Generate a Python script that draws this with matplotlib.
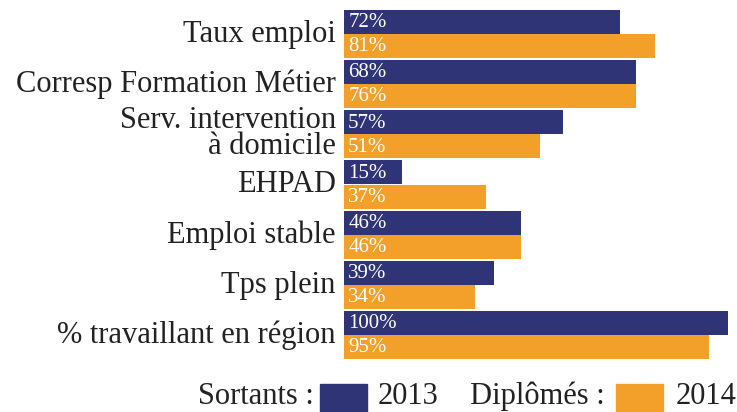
import matplotlib.pyplot as plt
from matplotlib.patches import Rectangle
from matplotlib.transforms import ScaledTranslation
import numpy as np

# Data
categories = ["Taux emploi", "Corresp Formation Métier",
              "Serv. intervention\nà domicile", "EHPAD", "Emploi stable",
              "Tps plein", "% travaillant en région"]
# bar lengths as drawn (the 2013 "Corresp" bar is drawn at ~76 although labelled 68%)
sortants_2013 = [72, 76, 57, 15, 46, 39, 100]
diplomes_2014 = [81, 76, 51, 37, 46, 34, 95]
labels_2013 = ["72%", "68%", "57%", "15%", "46%", "39%", "100%"]
labels_2014 = ["81%", "76%", "51%", "37%", "46%", "34%", "95%"]

navy = "#2f3476"
orange = "#f2a02a"
txt = "#222222"

plt.rcParams['font.family'] = ['Liberation Serif', 'DejaVu Serif']

fig = plt.figure(figsize=(7.37, 4.12), dpi=100)
ax = fig.add_axes([344 / 737, 1 - 359 / 412, 384 / 737, 349 / 412])

y = np.arange(len(categories))
h = 0.48
ax.barh(y - h / 2, sortants_2013, height=h, color=navy)
ax.barh(y + h / 2, diplomes_2014, height=h, color=orange)

# Value labels inside the bars
for yi, s in zip(y - h / 2, labels_2013):
    ax.annotate(s, (0, yi), xytext=(3, -0.5), textcoords="offset points",
                va="center", ha="left", color="white", fontsize=15)
for yi, s in zip(y + h / 2, labels_2014):
    ax.annotate(s, (0, yi), xytext=(3, -0.5), textcoords="offset points",
                va="center", ha="left", color="white", fontsize=15)

ax.set_xlim(0, 100)
ax.set_ylim(len(categories) - 1 + h, -h)
ax.set_yticks(y)
ax.set_yticklabels(categories, fontsize=22, color=txt, linespacing=0.85)
ax.tick_params(axis="y", length=0, pad=6)
# nudge category labels up a little, as in the reference
shift = ScaledTranslation(0, 3 / 100, fig.dpi_scale_trans)
for lab in ax.get_yticklabels():
    lab.set_transform(lab.get_transform() + shift)
ax.set_xticks([])
for s in ax.spines.values():
    s.set_visible(False)

# Legend along the bottom
fy = 1 - 404 / 412
fig.text(198 / 737, fy, "Sortants :", fontsize=22, va="baseline", color=txt)
fig.patches.append(Rectangle((320 / 737, 0), 47 / 737, 28 / 412,
                             transform=fig.transFigure, color=navy))
fig.text(378 / 737, fy, "2013", fontsize=22, va="baseline", color=txt)
fig.text(470 / 737, fy, "Diplômés :", fontsize=22, va="baseline", color=txt)
fig.patches.append(Rectangle((616 / 737, 0), 47 / 737, 28 / 412,
                             transform=fig.transFigure, color=orange))
fig.text(676 / 737, fy, "2014", fontsize=22, va="baseline", color=txt)

fig.savefig("out.png", dpi=100)
